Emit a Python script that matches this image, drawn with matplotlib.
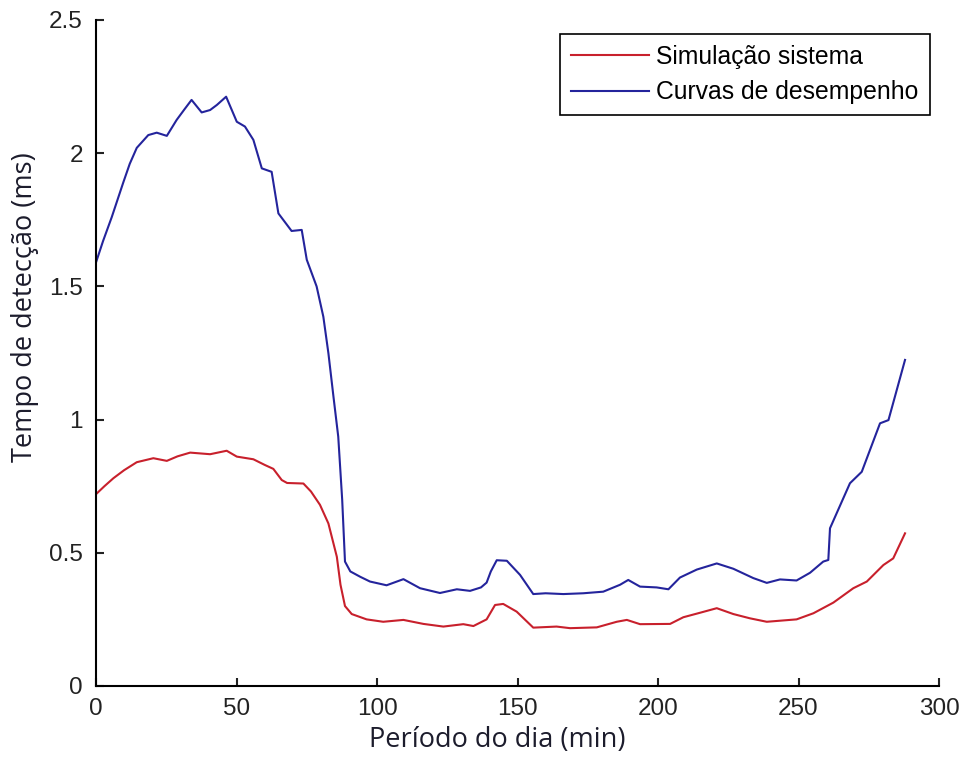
import numpy as np
import matplotlib
matplotlib.use('Agg')
import matplotlib.pyplot as plt

# curva azul - curvas de desempenho
x_desemp = [0, 2.5, 5.6, 9.7, 12, 14.5, 18.6, 21.6, 25.2, 28.7, 31.5, 34.0, 37.6, 40.6, 43.0, 46.3,
            50.1, 53.0, 56.0, 59.0, 62.5, 64.9, 69.6, 73.2, 75.0, 78.5, 80.9, 82.7, 84.5, 86.2, 87.6,
            88.6, 90.5, 94.0, 97.5, 103.4, 109.4, 115.3, 122.4, 128.4, 133.1, 137, 139.0, 140.5,
            142.6, 146.2, 150.9, 155.6, 160, 166.3, 173.4, 180.5, 186.5, 189.4, 193.6, 199.5,
            203.7, 207.8, 213.8, 220.9, 226.8, 233.9, 238.7, 243.4, 249.3, 254.1, 258.8, 260.6,
            261.2, 268.3, 272.5, 279.0, 282.0, 284.3, 287.9]
y_desemp = [1.59, 1.67, 1.76, 1.89, 1.96, 2.02, 2.068, 2.077, 2.065, 2.125, 2.165, 2.20, 2.153, 2.162,
            2.181, 2.212, 2.118, 2.10, 2.05, 1.943, 1.93, 1.774, 1.708, 1.712, 1.60, 1.50, 1.386,
            1.249, 1.086, 0.936, 0.70, 0.467, 0.43, 0.41, 0.392, 0.378, 0.401, 0.367, 0.349, 0.363,
            0.357, 0.37, 0.388, 0.43, 0.472, 0.470, 0.417, 0.345, 0.348, 0.345, 0.348, 0.354, 0.38,
            0.398, 0.373, 0.37, 0.363, 0.407, 0.437, 0.46, 0.44, 0.405, 0.387, 0.40, 0.396, 0.425,
            0.467, 0.473, 0.592, 0.761, 0.804, 0.986, 0.998, 1.086, 1.224]

# curva vermelha - simulacao do sistema
x_sim = [0, 3, 6.2, 10, 14.5, 20.4, 25.2, 29, 33.5, 40.6, 46.5, 50.1, 56.0, 60, 63.1, 66.1, 68,
         73.8, 76.5, 79.7, 82.7, 85.7, 87, 88.6, 91, 96.3, 102.2, 109.4, 116.5, 123.6, 130.7,
         134.3, 139.0, 142.0, 144.9, 149.7, 155.6, 163.9, 168.7, 178.2, 185.3, 188.9, 193.6,
         204.3, 209.0, 215.0, 220.9, 226.8, 232.7, 238.7, 249.3, 255.3, 262.4, 269.5, 274.3,
         280.2, 283.7, 287.9]
y_sim = [0.72, 0.75, 0.78, 0.81, 0.84, 0.855, 0.845, 0.862, 0.876, 0.87, 0.883, 0.861, 0.851, 0.83,
         0.815, 0.773, 0.762, 0.76, 0.73, 0.68, 0.61, 0.485, 0.38, 0.30, 0.27, 0.25, 0.241, 0.248,
         0.233, 0.223, 0.232, 0.225, 0.25, 0.304, 0.308, 0.279, 0.219, 0.223, 0.217, 0.22, 0.241,
         0.248, 0.232, 0.233, 0.258, 0.275, 0.292, 0.27, 0.254, 0.241, 0.25, 0.273, 0.313, 0.367,
         0.392, 0.454, 0.479, 0.573]

xticks = [0, 50, 100, 150, 200, 250, 300]
yticks = [0, 0.5, 1, 1.5, 2, 2.5]
ytick_labels = ['0', '0.5', '1', '1.5', '2', '2.5']

fig = plt.figure(figsize=(9.64, 7.6), dpi=100)
ax = fig.add_axes([0.0996, 0.0974, 0.8745, 0.8763])

ax.plot(x_sim, y_sim, color='#c8202c', linewidth=1.5, label='Simulação sistema')
ax.plot(x_desemp, y_desemp, color='#24249c', linewidth=1.5, label='Curvas de desempenho')

ax.set_xlim(0, 300)
ax.set_ylim(0, 2.5)
ax.set_xticks(xticks)
ax.set_yticks(yticks)
ax.set_yticklabels(ytick_labels)

ax.spines['top'].set_visible(False)
ax.spines['right'].set_visible(False)
ax.spines['left'].set_linewidth(1.5)
ax.spines['bottom'].set_linewidth(1.5)
ax.tick_params(direction='in', length=6, width=1.5, labelsize=17.5, colors='#222222')
ax.tick_params(axis='y', pad=9.5)
ax.tick_params(axis='x', pad=8.5)
for lab in ax.get_xticklabels() + ax.get_yticklabels():
    lab.set_family('Liberation Sans')

ax.set_xlabel('Período do dia (min)', fontsize=19.5, family='Open Sans', color='#1c1c2c',
              va='center', ha='center')
ax.set_ylabel('Tempo de detecção (ms)', fontsize=19.5, family='Open Sans', color='#1c1c2c',
              va='center', ha='center')
ax.xaxis.set_label_coords(0.476, -0.081)
ax.yaxis.set_label_coords(-0.084, 0.569)

leg = ax.legend(loc='upper right', bbox_to_anchor=(0.989, 0.979), borderaxespad=0,
                fancybox=False, framealpha=1, edgecolor='black', handlelength=3.15,
                prop={'family': 'Liberation Sans', 'size': 17.8}, borderpad=0.45,
                labelspacing=0.45, handletextpad=0.3)
leg.get_frame().set_linewidth(1.2)

fig.savefig('out.png', dpi=100)
